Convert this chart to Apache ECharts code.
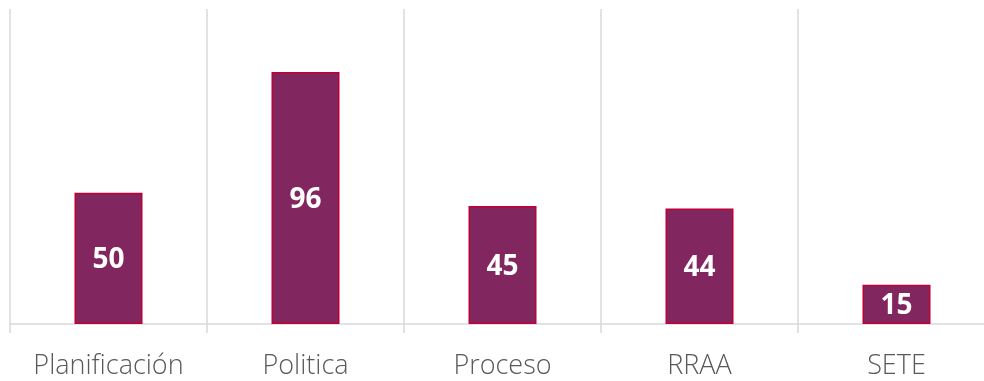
<!DOCTYPE html>
<html><head><meta charset="utf-8">
<script src="https://cdn.jsdelivr.net/npm/echarts@6/dist/echarts.min.js"></script>
<style>html,body{margin:0;padding:0;background:#fff}#c{width:984px;height:381px}</style>
</head><body><div id="c"></div>
<script>
const categories = ['Planificación', 'Politica', 'Proceso', 'RRAA', 'SETE'];
const values = [50, 96, 45, 44, 15];
const chart = echarts.init(document.getElementById('c'), null, {renderer: 'canvas'});
chart.setOption({
  animation: false,
  grid: {left: 10, width: 985, top: 9, height: 315, outerBoundsMode: 'none'},
  xAxis: {
    type: 'category', data: categories, boundaryGap: true,
    axisLine: {show: true, lineStyle: {color: '#d9d9d9', width: 1.5}},
    axisTick: {show: true, length: 9, lineStyle: {color: '#d9d9d9', width: 1.5}},
    splitLine: {show: true, lineStyle: {color: '#d9d9d9', width: 1.5}},
    axisLabel: {color: '#595959', fontSize: 27, fontFamily: 'Open Sans', fontWeight: 300, margin: 29}
  },
  yAxis: {type: 'value', min: 0, max: 120, show: false, splitLine: {show: false}},
  series: [{
    type: 'bar', data: values, barWidth: 68,
    itemStyle: {color: '#82265F', borderColor: '#C00035', borderWidth: 1.5},
    label: {show: true, position: 'inside', color: '#fff', fontSize: 28, fontWeight: 'bold', fontFamily: 'Open Sans', offset: [0, 2]}
  }]
});
</script></body></html>
